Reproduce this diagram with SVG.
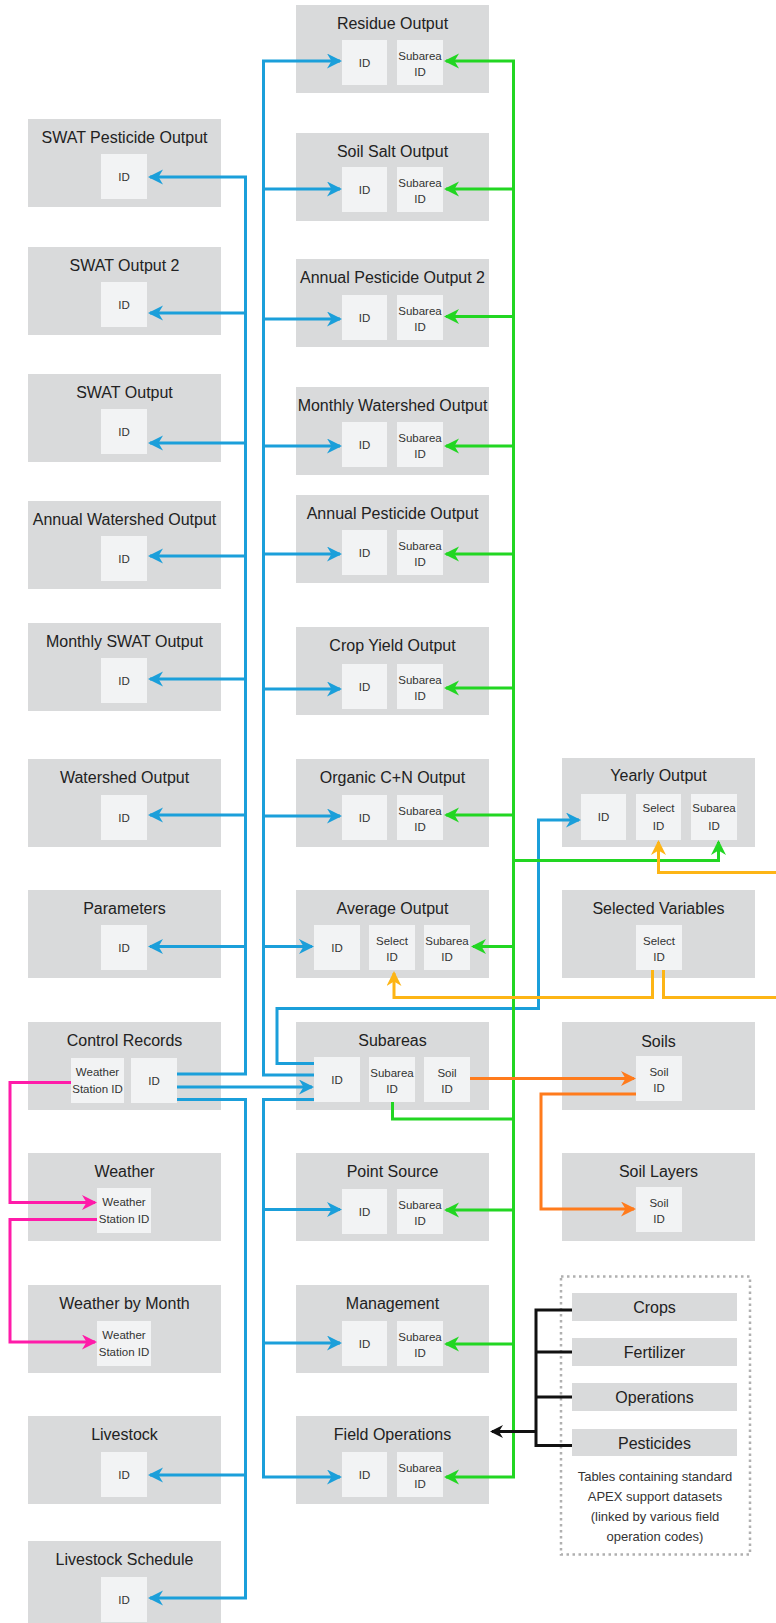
<svg xmlns="http://www.w3.org/2000/svg" width="776" height="1623" viewBox="0 0 776 1623">
<style>
.box{fill:#d9dadb}
.in{fill:#f2f3f4}
.t{font-family:"Liberation Sans",Arial,sans-serif;font-size:16px;fill:#222;text-anchor:middle}
.s{font-family:"Liberation Sans",Arial,sans-serif;font-size:11.5px;fill:#333;text-anchor:middle}
.n{font-family:"Liberation Sans",Arial,sans-serif;font-size:13px;fill:#333;text-anchor:middle}
.c{fill:none;stroke-width:3;stroke-linejoin:miter;stroke-linecap:butt}
.b{stroke:#1b9fda}.g{stroke:#22d622}.y{stroke:#fdb515}.o{stroke:#ff7b1c}.m{stroke:#ff1ba9}.k{stroke:#111}
.ab{marker-end:url(#mb)}.ag{marker-end:url(#mg)}.ay{marker-end:url(#my)}.ao{marker-end:url(#mo)}.am{marker-end:url(#mm)}.ak{marker-end:url(#mk)}
</style>
<defs>
<marker id="mb" markerUnits="userSpaceOnUse" markerWidth="16" markerHeight="16" refX="13" refY="7.5" orient="auto"><path d="M0,0 L15,7.5 L0,15 L4.5,7.5 Z" fill="#1b9fda"/></marker>
<marker id="mg" markerUnits="userSpaceOnUse" markerWidth="16" markerHeight="16" refX="13" refY="7.5" orient="auto"><path d="M0,0 L15,7.5 L0,15 L4.5,7.5 Z" fill="#22d622"/></marker>
<marker id="my" markerUnits="userSpaceOnUse" markerWidth="16" markerHeight="16" refX="13" refY="7.5" orient="auto"><path d="M0,0 L15,7.5 L0,15 L4.5,7.5 Z" fill="#fdb515"/></marker>
<marker id="mo" markerUnits="userSpaceOnUse" markerWidth="16" markerHeight="16" refX="13" refY="7.5" orient="auto"><path d="M0,0 L15,7.5 L0,15 L4.5,7.5 Z" fill="#ff7b1c"/></marker>
<marker id="mm" markerUnits="userSpaceOnUse" markerWidth="16" markerHeight="16" refX="13" refY="7.5" orient="auto"><path d="M0,0 L15,7.5 L0,15 L4.5,7.5 Z" fill="#ff1ba9"/></marker>
<marker id="mk" markerUnits="userSpaceOnUse" markerWidth="14" markerHeight="14" refX="11" refY="6.5" orient="auto"><path d="M0,0 L13,6.5 L0,13 L4,6.5 Z" fill="#111"/></marker>
</defs>
<rect width="776" height="1623" fill="#fff"/>

<!-- Left column -->
<g id="swat-pesticide-output"><rect class="box" x="28" y="119" width="193" height="88"/><text class="t" x="124.5" y="142.5">SWAT Pesticide Output</text><rect class="in" x="101" y="154" width="46" height="45"/><text class="s" x="124" y="180.5">ID</text></g>
<g id="swat-output-2"><rect class="box" x="28" y="247" width="193" height="88"/><text class="t" x="124.5" y="270.5">SWAT Output 2</text><rect class="in" x="101" y="282" width="46" height="45"/><text class="s" x="124" y="308.5">ID</text></g>
<g id="swat-output"><rect class="box" x="28" y="374" width="193" height="88"/><text class="t" x="124.5" y="397.5">SWAT Output</text><rect class="in" x="101" y="409" width="46" height="45"/><text class="s" x="124" y="435.5">ID</text></g>
<g id="annual-watershed-output"><rect class="box" x="28" y="501" width="193" height="88"/><text class="t" x="124.5" y="524.5">Annual Watershed Output</text><rect class="in" x="101" y="536" width="46" height="45"/><text class="s" x="124" y="562.5">ID</text></g>
<g id="monthly-swat-output"><rect class="box" x="28" y="623" width="193" height="88"/><text class="t" x="124.5" y="646.5">Monthly SWAT Output</text><rect class="in" x="101" y="658" width="46" height="45"/><text class="s" x="124" y="684.5">ID</text></g>
<g id="watershed-output"><rect class="box" x="28" y="759" width="193" height="88"/><text class="t" x="124.5" y="782.5">Watershed Output</text><rect class="in" x="101" y="795" width="46" height="45"/><text class="s" x="124" y="821.5">ID</text></g>
<g id="parameters"><rect class="box" x="28" y="890" width="193" height="88"/><text class="t" x="124.5" y="913.5">Parameters</text><rect class="in" x="101" y="925" width="46" height="45"/><text class="s" x="124" y="951.5">ID</text></g>
<g id="control-records"><rect class="box" x="28" y="1022" width="193" height="88"/><text class="t" x="124.5" y="1045.5">Control Records</text><rect class="in" x="71" y="1058" width="53" height="45"/><text class="s" x="97.5" y="1076">Weather</text><text class="s" x="97.5" y="1093">Station ID</text><rect class="in" x="131" y="1058" width="46" height="45"/><text class="s" x="154" y="1084.5">ID</text></g>
<g id="weather"><rect class="box" x="28" y="1153" width="193" height="88"/><text class="t" x="124.5" y="1176.5">Weather</text><rect class="in" x="97" y="1188" width="54" height="45"/><text class="s" x="124" y="1206">Weather</text><text class="s" x="124" y="1223">Station ID</text></g>
<g id="weather-by-month"><rect class="box" x="28" y="1285" width="193" height="88"/><text class="t" x="124.5" y="1308.5">Weather by Month</text><rect class="in" x="97" y="1321" width="54" height="45"/><text class="s" x="124" y="1339">Weather</text><text class="s" x="124" y="1356">Station ID</text></g>
<g id="livestock"><rect class="box" x="28" y="1416" width="193" height="88"/><text class="t" x="124.5" y="1439.5">Livestock</text><rect class="in" x="101" y="1452" width="46" height="45"/><text class="s" x="124" y="1478.5">ID</text></g>
<g id="livestock-schedule"><rect class="box" x="28" y="1541" width="193" height="88"/><text class="t" x="124.5" y="1564.5">Livestock Schedule</text><rect class="in" x="101" y="1577" width="46" height="45"/><text class="s" x="124" y="1603.5">ID</text></g>

<!-- Middle column -->
<g id="residue-output"><rect class="box" x="296" y="5" width="193" height="88"/><text class="t" x="392.5" y="29">Residue Output</text><rect class="in" x="342" y="40" width="45" height="45"/><text class="s" x="364.5" y="66.5">ID</text><rect class="in" x="397" y="40" width="46" height="45"/><text class="s" x="420" y="59.5">Subarea</text><text class="s" x="420" y="76">ID</text></g>
<g id="soil-salt-output"><rect class="box" x="296" y="133" width="193" height="88"/><text class="t" x="392.5" y="157">Soil Salt Output</text><rect class="in" x="342" y="167" width="45" height="45"/><text class="s" x="364.5" y="193.5">ID</text><rect class="in" x="397" y="167" width="46" height="45"/><text class="s" x="420" y="186.5">Subarea</text><text class="s" x="420" y="203">ID</text></g>
<g id="annual-pesticide-output-2"><rect class="box" x="296" y="259" width="193" height="88"/><text class="t" x="392.5" y="283">Annual Pesticide Output 2</text><rect class="in" x="342" y="295" width="45" height="45"/><text class="s" x="364.5" y="321.5">ID</text><rect class="in" x="397" y="295" width="46" height="45"/><text class="s" x="420" y="314.5">Subarea</text><text class="s" x="420" y="331">ID</text></g>
<g id="monthly-watershed-output"><rect class="box" x="296" y="387" width="193" height="88"/><text class="t" x="392.5" y="411">Monthly Watershed Output</text><rect class="in" x="342" y="422" width="45" height="45"/><text class="s" x="364.5" y="448.5">ID</text><rect class="in" x="397" y="422" width="46" height="45"/><text class="s" x="420" y="441.5">Subarea</text><text class="s" x="420" y="458">ID</text></g>
<g id="annual-pesticide-output"><rect class="box" x="296" y="495" width="193" height="88"/><text class="t" x="392.5" y="519">Annual Pesticide Output</text><rect class="in" x="342" y="530" width="45" height="45"/><text class="s" x="364.5" y="556.5">ID</text><rect class="in" x="397" y="530" width="46" height="45"/><text class="s" x="420" y="549.5">Subarea</text><text class="s" x="420" y="566">ID</text></g>
<g id="crop-yield-output"><rect class="box" x="296" y="627" width="193" height="88"/><text class="t" x="392.5" y="651">Crop Yield Output</text><rect class="in" x="342" y="664" width="45" height="45"/><text class="s" x="364.5" y="690.5">ID</text><rect class="in" x="397" y="664" width="46" height="45"/><text class="s" x="420" y="683.5">Subarea</text><text class="s" x="420" y="700">ID</text></g>
<g id="organic-cn-output"><rect class="box" x="296" y="759" width="193" height="88"/><text class="t" x="392.5" y="783">Organic C+N Output</text><rect class="in" x="342" y="795" width="45" height="45"/><text class="s" x="364.5" y="821.5">ID</text><rect class="in" x="397" y="795" width="46" height="45"/><text class="s" x="420" y="814.5">Subarea</text><text class="s" x="420" y="831">ID</text></g>
<g id="average-output"><rect class="box" x="296" y="890" width="193" height="88"/><text class="t" x="392.5" y="914">Average Output</text><rect class="in" x="314" y="925" width="46" height="45"/><text class="s" x="337" y="951.5">ID</text><rect class="in" x="369" y="925" width="46" height="45"/><text class="s" x="392" y="944.5">Select</text><text class="s" x="392" y="961">ID</text><rect class="in" x="424" y="925" width="46" height="45"/><text class="s" x="447" y="944.5">Subarea</text><text class="s" x="447" y="961">ID</text></g>
<g id="subareas"><rect class="box" x="296" y="1022" width="193" height="88"/><text class="t" x="392.5" y="1046">Subareas</text><rect class="in" x="314" y="1057" width="46" height="45"/><text class="s" x="337" y="1083.5">ID</text><rect class="in" x="369" y="1057" width="46" height="45"/><text class="s" x="392" y="1076.5">Subarea</text><text class="s" x="392" y="1093">ID</text><rect class="in" x="424" y="1057" width="46" height="45"/><text class="s" x="447" y="1076.5">Soil</text><text class="s" x="447" y="1093">ID</text></g>
<g id="point-source"><rect class="box" x="296" y="1153" width="193" height="88"/><text class="t" x="392.5" y="1177">Point Source</text><rect class="in" x="342" y="1189" width="45" height="45"/><text class="s" x="364.5" y="1215.5">ID</text><rect class="in" x="397" y="1189" width="46" height="45"/><text class="s" x="420" y="1208.5">Subarea</text><text class="s" x="420" y="1225">ID</text></g>
<g id="management"><rect class="box" x="296" y="1285" width="193" height="88"/><text class="t" x="392.5" y="1309">Management</text><rect class="in" x="342" y="1321" width="45" height="45"/><text class="s" x="364.5" y="1347.5">ID</text><rect class="in" x="397" y="1321" width="46" height="45"/><text class="s" x="420" y="1340.5">Subarea</text><text class="s" x="420" y="1357">ID</text></g>
<g id="field-operations"><rect class="box" x="296" y="1416" width="193" height="88"/><text class="t" x="392.5" y="1440">Field Operations</text><rect class="in" x="342" y="1452" width="45" height="45"/><text class="s" x="364.5" y="1478.5">ID</text><rect class="in" x="397" y="1452" width="46" height="45"/><text class="s" x="420" y="1471.5">Subarea</text><text class="s" x="420" y="1488">ID</text></g>

<!-- Right column -->
<g id="yearly-output"><rect class="box" x="562" y="758" width="193" height="89"/><text class="t" x="658.5" y="781">Yearly Output</text><rect class="in" x="581" y="794" width="45" height="46"/><text class="s" x="603.5" y="821">ID</text><rect class="in" x="636" y="794" width="45" height="46"/><text class="s" x="658.5" y="812">Select</text><text class="s" x="658.5" y="830">ID</text><rect class="in" x="691" y="794" width="46" height="46"/><text class="s" x="714" y="812">Subarea</text><text class="s" x="714" y="830">ID</text></g>
<g id="selected-variables"><rect class="box" x="562" y="890" width="193" height="88"/><text class="t" x="658.5" y="914">Selected Variables</text><rect class="in" x="636" y="925" width="46" height="45"/><text class="s" x="659" y="944.5">Select</text><text class="s" x="659" y="961">ID</text></g>
<g id="soils"><rect class="box" x="562" y="1022" width="193" height="88"/><text class="t" x="658.5" y="1046.5">Soils</text><rect class="in" x="636" y="1056" width="46" height="45"/><text class="s" x="659" y="1075.5">Soil</text><text class="s" x="659" y="1092">ID</text></g>
<g id="soil-layers"><rect class="box" x="562" y="1153" width="193" height="88"/><text class="t" x="658.5" y="1177">Soil Layers</text><rect class="in" x="636" y="1187" width="46" height="45"/><text class="s" x="659" y="1206.5">Soil</text><text class="s" x="659" y="1223">ID</text></g>

<!-- Support datasets -->
<g id="support-datasets">
<rect x="561" y="1276.5" width="189" height="278" fill="none" stroke="#b0b0b0" stroke-width="2.5" stroke-dasharray="2.5 3.5"/>
<text class="n" x="655" y="1481">Tables containing standard</text>
<text class="n" x="655" y="1501">APEX support datasets</text>
<text class="n" x="655" y="1521">(linked by various field</text>
<text class="n" x="655" y="1541">operation codes)</text>
</g>
<g id="crops"><rect class="box" x="572" y="1293" width="165" height="28"/><text class="t" x="654.5" y="1313">Crops</text></g>
<g id="fertilizer"><rect class="box" x="572" y="1338" width="165" height="28"/><text class="t" x="654.5" y="1358">Fertilizer</text></g>
<g id="operations"><rect class="box" x="572" y="1383" width="165" height="28"/><text class="t" x="654.5" y="1403">Operations</text></g>
<g id="pesticides"><rect class="box" x="572" y="1429" width="165" height="27"/><text class="t" x="654.5" y="1448.5">Pesticides</text></g>

<!-- Connectors -->
<g id="connectors">
<!-- blue trunk A -->
<path class="c b" d="M177,1074 H245.5 V177"/>
<path class="c b" d="M177,1099.5 H245.5 V1598"/>
<path class="c b ab" d="M247,177 H150"/>
<path class="c b ab" d="M247,313 H150"/>
<path class="c b ab" d="M247,443 H150"/>
<path class="c b ab" d="M247,556 H150"/>
<path class="c b ab" d="M247,679 H150"/>
<path class="c b ab" d="M247,815 H150"/>
<path class="c b ab" d="M247,946.5 H150"/>
<path class="c b ab" d="M247,1475 H150"/>
<path class="c b ab" d="M247,1598 H150"/>
<!-- blue trunk B -->
<path class="c b" d="M263.5,61 V1075 H314"/>
<path class="c b" d="M314,1099.5 H263.5 V1477"/>
<path class="c b ab" d="M262,61 H340"/>
<path class="c b ab" d="M262,189 H340"/>
<path class="c b ab" d="M262,319 H340"/>
<path class="c b ab" d="M262,446 H340"/>
<path class="c b ab" d="M262,554 H340"/>
<path class="c b ab" d="M262,689 H340"/>
<path class="c b ab" d="M262,816 H340"/>
<path class="c b ab" d="M262,946.5 H312"/>
<path class="c b ab" d="M262,1209.5 H340"/>
<path class="c b ab" d="M262,1343 H340"/>
<path class="c b ab" d="M262,1477 H340"/>
<path class="c b ab" d="M177,1087 H312"/>
<path class="c b ab" d="M314,1063.5 H277 V1008.5 H538.5 V820 H579"/>
<!-- green -->
<path class="c g" d="M513.5,61 V1477"/>
<path class="c g ag" d="M515,61 H446"/>
<path class="c g ag" d="M515,189 H446"/>
<path class="c g ag" d="M515,316.5 H446"/>
<path class="c g ag" d="M515,446 H446"/>
<path class="c g ag" d="M515,554 H446"/>
<path class="c g ag" d="M515,688 H446"/>
<path class="c g ag" d="M515,815 H446"/>
<path class="c g ag" d="M515,946.5 H473"/>
<path class="c g ag" d="M515,1210 H446"/>
<path class="c g ag" d="M515,1344 H446"/>
<path class="c g ag" d="M515,1477 H446"/>
<path class="c g ag" d="M513.5,860.5 H718.5 V842"/>
<path class="c g" d="M392.5,1102 V1119 H513.5"/>
<!-- yellow -->
<path class="c y ay" d="M652.5,970 V997.5 H394 V973"/>
<path class="c y" d="M663.5,970 V997.5 H776"/>
<path class="c y ay" d="M776,872.5 H658.5 V842"/>
<!-- orange -->
<path class="c o ao" d="M470,1078.5 H634"/>
<path class="c o ao" d="M636,1094 H541 V1209 H634"/>
<!-- magenta -->
<path class="c m am" d="M71,1082.5 H10 V1202.5 H95"/>
<path class="c m am" d="M97,1219.5 H10 V1342 H95"/>
<!-- black -->
<path class="c k" d="M572,1310 H536 V1445.5 H572"/>
<path class="c k" d="M536,1352 H572"/>
<path class="c k" d="M536,1397 H572"/>
<path class="c k ak" d="M536,1431.5 H492"/>
</g>
</svg>
